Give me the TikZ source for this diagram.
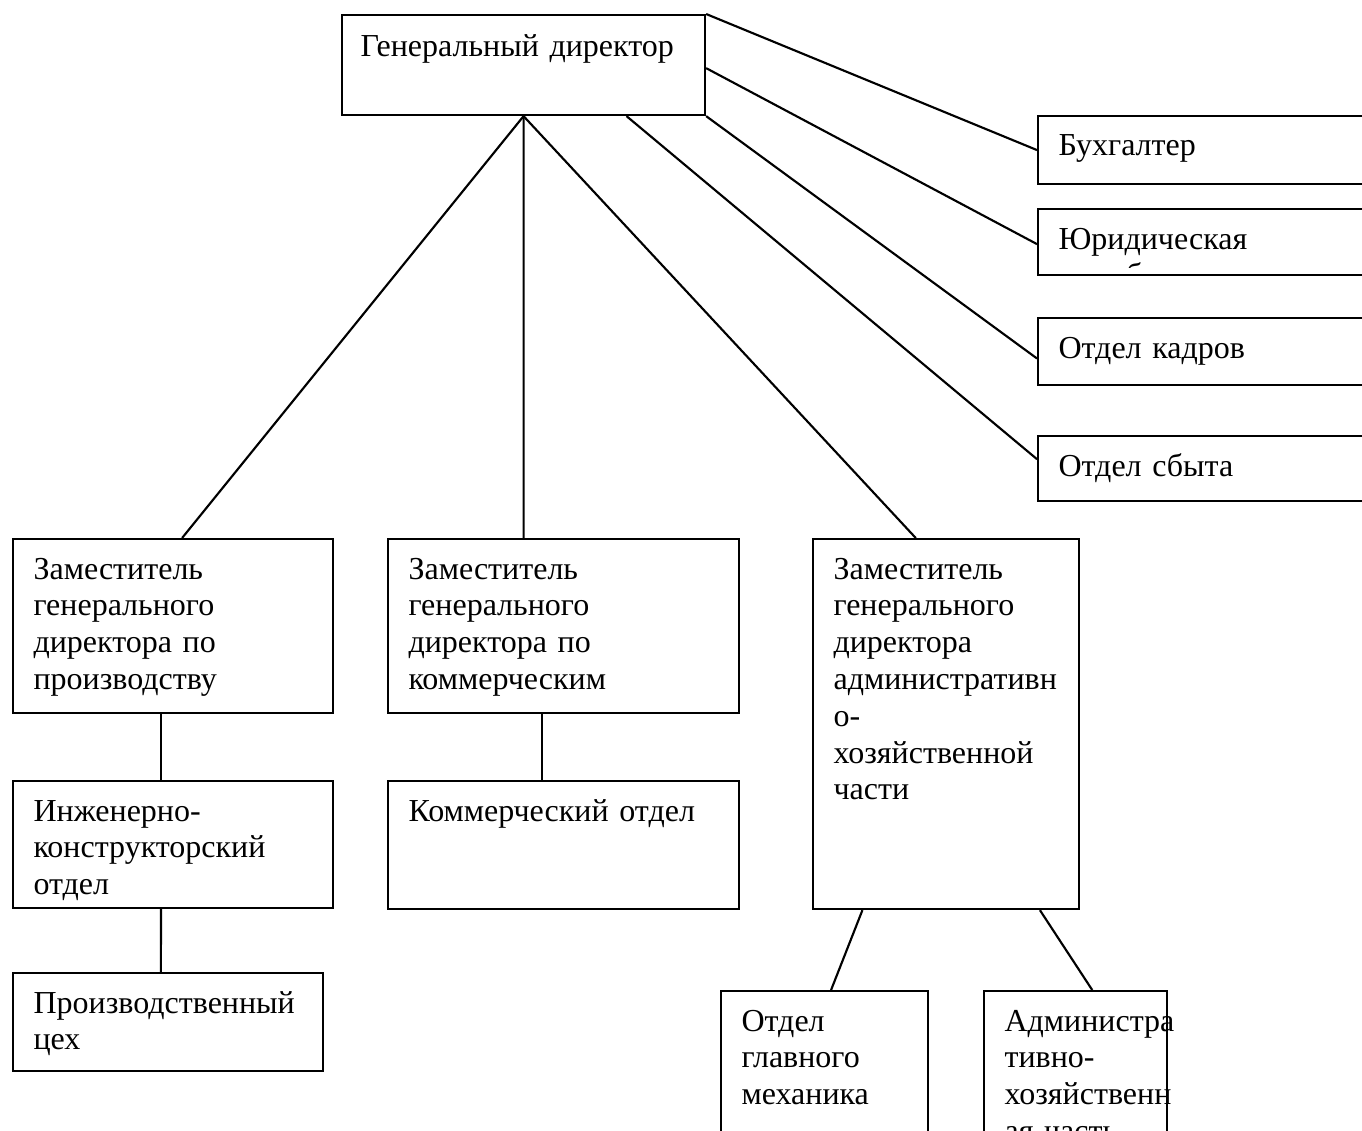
\documentclass[tikz,border=0pt]{standalone}
\usepackage{fontspec}
\setmainfont{Liberation Serif}
\usetikzlibrary{calc}
% one drawing unit = 0.375pt
\newcommand{\pxu}{0.375pt}

\begin{document}
\begin{tikzpicture}[x=0.375pt, y=-0.375pt,
    unit/.style={draw, rectangle, inner sep=0pt, anchor=north west, line width=0.8pt},
    caption/.style={anchor=base west, inner sep=0pt, align=left, text width=160pt,
                    font=\fontsize{12}{13.8}\selectfont},
    link/.style={line width=0.8pt}]

\useasboundingbox (0,0) rectangle (1362,1130);
\clip (0,0) rectangle (1362,1130);

% top level
\node[unit, minimum width=363*\pxu, minimum height=100*\pxu] (gd) at (341,14) {};
\node[caption] (gdt) at ($(gd.north west)+(19,42)$) {Генеральный директор};

% staff units on the right
\node[unit, minimum width=400*\pxu, minimum height=68*\pxu] (buh) at (1037,115) {};
\node[caption] (buht) at ($(buh.north west)+(21,40)$) {Бухгалтер};

\node[unit, minimum width=400*\pxu, minimum height=66*\pxu] (jur) at (1037,208) {};
\begin{scope}
  \clip (1037,208) rectangle (1362,267);
  \node[caption] (jurt) at ($(jur.north west)+(21,41)$) {Юридическая\\служба};
\end{scope}

\node[unit, minimum width=400*\pxu, minimum height=67*\pxu] (kadr) at (1037,317) {};
\node[caption] (kadrt) at ($(kadr.north west)+(21,41)$) {Отдел кадров};

\node[unit, minimum width=400*\pxu, minimum height=65*\pxu] (sbyt) at (1037,435) {};
\node[caption] (sbytt) at ($(sbyt.north west)+(21,41)$) {Отдел сбыта};

% deputies
\node[unit, minimum width=320*\pxu, minimum height=174*\pxu] (dep1) at (12,538) {};
\node[caption] (dep1t) at ($(dep1.north west)+(21,41)$)
  {Заместитель\\генерального\\директора по\\производству};

\node[unit, minimum width=351*\pxu, minimum height=174*\pxu] (dep2) at (387,538) {};
\node[caption] (dep2t) at ($(dep2.north west)+(21,41)$)
  {Заместитель\\генерального\\директора по\\коммерческим};

\node[unit, minimum width=266*\pxu, minimum height=370*\pxu] (dep3) at (812,538) {};
\node[caption] (dep3t) at ($(dep3.north west)+(21,41)$)
  {Заместитель\\генерального\\директора\\административн\\о-\\хозяйственной\\части};

% departments
\node[unit, minimum width=320*\pxu, minimum height=127*\pxu] (ing) at (12,780) {};
\node[caption] (ingt) at ($(ing.north west)+(21,41)$)
  {Инженерно-\\конструкторский\\отдел};

\node[unit, minimum width=310*\pxu, minimum height=98*\pxu] (prod) at (12,972) {};
\node[caption] (prodt) at ($(prod.north west)+(21,41)$)
  {Производственный\\цех};

\node[unit, minimum width=351*\pxu, minimum height=128*\pxu] (kom) at (387,780) {};
\node[caption] (komt) at ($(kom.north west)+(21,41)$) {Коммерческий отдел};

\node[unit, minimum width=207*\pxu, minimum height=220*\pxu] (mech) at (720,990) {};
\node[caption] (mecht) at ($(mech.north west)+(21,41)$)
  {Отдел\\главного\\механика};

\node[unit, minimum width=183*\pxu, minimum height=220*\pxu] (adm) at (983,990) {};
\node[caption] (admt) at ($(adm.north west)+(21,41)$)
  {Администра\\тивно-\\хозяйственн\\ая часть};

% connectors
\draw[link] (gd.north east) -- (buh.west);
\draw[link] ($(gd.north east)!0.53!(gd.south east)$) -- ($(jur.north west)!0.53!(jur.south west)$);
\draw[link] (gd.south east) -- ($(kadr.north west)!0.6!(kadr.south west)$);
\draw[link] ($(gd.south west)!0.782!(gd.south east)$) -- ($(sbyt.north west)!0.36!(sbyt.south west)$);

\draw[link] (gd.south) -- ($(dep1.north west)!0.528!(dep1.north east)$);
\draw[link] (gd.south) -- ($(dep2.north west)!0.387!(dep2.north east)$);
\draw[link] (gd.south) -- ($(dep3.north west)!0.387!(dep3.north east)$);

\draw[link] ($(dep1.south west)!0.4625!(dep1.south east)$) -- ($(ing.north west)!0.4625!(ing.north east)$);
\draw[link] ($(ing.south west)!0.4625!(ing.south east)$) -- ($(prod.north west)!0.477!(prod.north east)$);
\draw[link] ($(dep2.south west)!0.4387!(dep2.south east)$) -- ($(kom.north west)!0.4387!(kom.north east)$);
\draw[link] ($(dep3.south west)!0.188!(dep3.south east)$) -- ($(mech.north west)!0.531!(mech.north east)$);
\draw[link] ($(dep3.south west)!0.85!(dep3.south east)$) -- ($(adm.north west)!0.59!(adm.north east)$);

\end{tikzpicture}
\end{document}
